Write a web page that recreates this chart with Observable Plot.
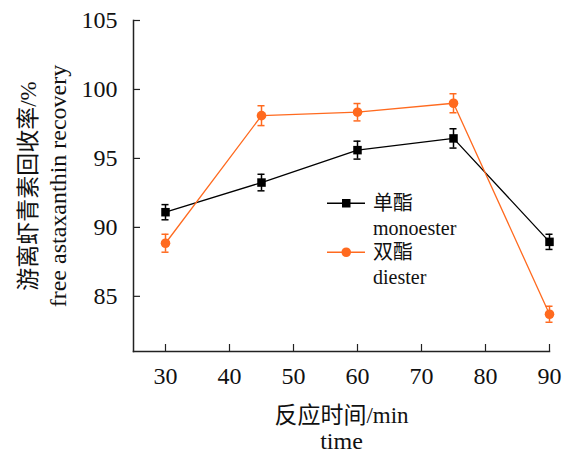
<!DOCTYPE html>
<html><head><meta charset="utf-8">
<script src="https://cdn.jsdelivr.net/npm/d3@7"></script>
<script src="https://cdn.jsdelivr.net/npm/@observablehq/plot@0.6"></script>
<style>
body{margin:0;background:#fff}
#wrap{position:relative;width:567px;height:454px;font-family:"Liberation Serif","Noto Sans CJK SC",serif;color:#111}
.leg{position:absolute;left:327px;font-size:20px;line-height:26px}
.leg .row{display:flex;align-items:center;height:24.5px}
.leg svg{margin-right:8px}
.leg .sub{padding-left:46px}
</style></head><body><div id="wrap"></div>
<script>
const times = [30, 45, 60, 75, 90];
const monoester = [91.1, 93.25, 95.6, 96.45, 88.95];
const monoErr = [0.55, 0.6, 0.65, 0.7, 0.55];
const diester = [88.85, 98.1, 98.35, 99.0, 83.7];
const diErr = [0.65, 0.72, 0.63, 0.69, 0.58];
const xTicks = [30, 40, 50, 60, 70, 80, 90];
const yTicks = [85, 90, 95, 100, 105];
const seriesNames = ["单酯", "双酯"];
const seriesSub = ["monoester", "diester"];
const seriesSymbols = ["square", "circle"];
const colors = ["#000000", "#ff6a1f"];
const yTitle = ["游离虾青素回收率/%", "free astaxanthin recovery"];
const xTitle = ["反应时间/min", "time"];

const data = [];
[[monoester, monoErr], [diester, diErr]].forEach(([vals, errs], s) => {
  vals.forEach((v, i) => data.push({series: seriesSub[s], x: times[i], y: v, e: errs[i]}));
});

const font = '"Liberation Serif","Noto Sans CJK SC",serif';
const chart = Plot.plot({
  width: 567, height: 454,
  marginLeft: 133, marginRight: 18, marginTop: 20, marginBottom: 103,
  style: {fontFamily: font, fontSize: "24px", color: "#111", background: "#fff"},
  x: {domain: [25, 90]},
  y: {domain: [81, 105]},
  color: {domain: seriesSub, range: colors},
  symbol: {domain: seriesSub, range: seriesSymbols},
  marks: [
    Plot.frame({anchor: "left", stroke: "#222", strokeWidth: 1.5}),
    Plot.frame({anchor: "bottom", stroke: "#222", strokeWidth: 1.5}),
    Plot.axisX({ticks: xTicks, tickSize: -7, text: null, label: null, stroke: "#222", strokeWidth: 1.2}),
    Plot.axisX({ticks: xTicks, tickSize: 0, tickPadding: 15, tickFormat: d => d, fontSize: 24, label: null}),
    Plot.axisY({ticks: yTicks, tickSize: -7, text: null, label: null, stroke: "#222", strokeWidth: 1.2}),
    Plot.axisY({ticks: yTicks, tickSize: 0, tickPadding: 16, tickFormat: d => d, fontSize: 24, label: null}),
    Plot.line(data, {x: "x", y: "y", z: "series", stroke: "series", strokeWidth: 1.3}),
    Plot.ruleX(data, {x: "x", y1: d => d.y - d.e, y2: d => d.y + d.e, stroke: "series", strokeWidth: 1.5}),
    Plot.ruleY(data, {y: d => d.y - d.e, x1: d => d.x - 0.55, x2: d => d.x + 0.55, stroke: "series", strokeWidth: 1.5}),
    Plot.ruleY(data, {y: d => d.y + d.e, x1: d => d.x - 0.55, x2: d => d.x + 0.55, stroke: "series", strokeWidth: 1.5}),
    Plot.dot(data, {x: "x", y: "y", symbol: "series", fill: "series", stroke: "none", r: 4.8}),
    Plot.text([yTitle[0]], {frameAnchor: "left", textAnchor: "middle", lineAnchor: "middle", rotate: -90, dx: -105, fontSize: 23, fill: "#111"}),
    Plot.text([yTitle[1]], {frameAnchor: "left", textAnchor: "middle", lineAnchor: "middle", rotate: -90, dx: -75, fontSize: 24, fill: "#111"}),
    Plot.text([xTitle[0]], {frameAnchor: "bottom", textAnchor: "middle", lineAnchor: "middle", dy: 64, fontSize: 23, fill: "#111"}),
    Plot.text([xTitle[1]], {frameAnchor: "bottom", textAnchor: "middle", lineAnchor: "middle", dy: 90, fontSize: 24, fill: "#111"})
  ]
});
const wrap = document.getElementById("wrap");
wrap.appendChild(chart);

const leg = document.createElement("div");
leg.className = "leg";
leg.style.top = "191px";
seriesNames.forEach((name, i) => {
  const row = document.createElement("div");
  row.className = "row";
  const marker = seriesSymbols[i] === "square"
    ? `<rect x="15" y="6" width="8.5" height="8.5" fill="${colors[i]}"/>`
    : `<circle cx="19.25" cy="10.25" r="4.8" fill="${colors[i]}"/>`;
  row.innerHTML = `<svg width="38" height="20"><line x1="0" x2="38" y1="10.25" y2="10.25" stroke="${colors[i]}" stroke-width="1.3"/>${marker}</svg><span>${name}</span>`;
  leg.appendChild(row);
  const sub = document.createElement("div");
  sub.className = "sub row";
  sub.textContent = seriesSub[i];
  leg.appendChild(sub);
});
wrap.appendChild(leg);
</script></body></html>
